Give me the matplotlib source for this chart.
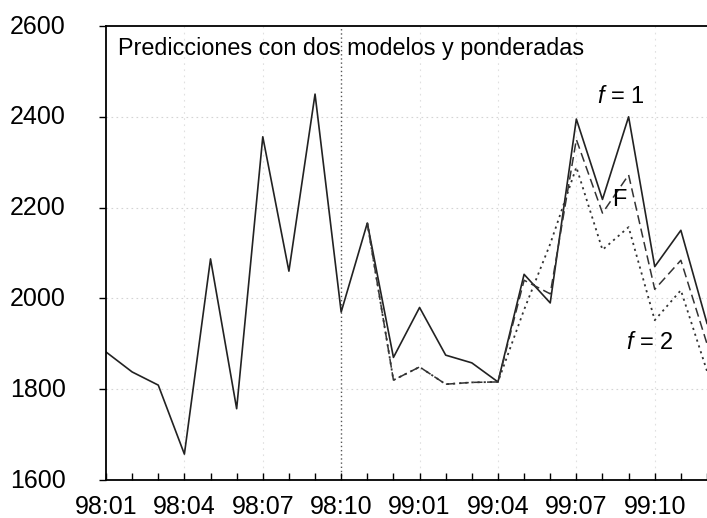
import matplotlib
matplotlib.use("Agg")
import matplotlib.pyplot as plt
import matplotlib.transforms as mtransforms
import numpy as np

plt.rcParams['font.family'] = ['Liberation Sans', 'DejaVu Sans']
plt.rcParams['mathtext.fontset'] = 'custom'
plt.rcParams['mathtext.it'] = 'Liberation Sans:italic'
plt.rcParams['mathtext.rm'] = 'Liberation Sans'

# months 98:01 .. 99:12
months = ['98:01', '98:02', '98:03', '98:04', '98:05', '98:06', '98:07', '98:08',
          '98:09', '98:10', '98:11', '98:12', '99:01', '99:02', '99:03', '99:04',
          '99:05', '99:06', '99:07', '99:08', '99:09', '99:10', '99:11', '99:12']

# observed series + model f = 1 (solid)
f1 = [1882, 1838, 1809, 1657, 2087, 1757, 2356, 2060, 2450, 1970, 2166, 1870,
      1980, 1875, 1858, 1816, 2053, 1990, 2395, 2218, 2400, 2070, 2150, 1945]

# forecasts start at 98:11
start = 10
f2 = [2166, 1820, 1849, 1811, 1815, 1816, 1975, 2120, 2289, 2107, 2157, 1952, 2018, 1840]
F = [2166, 1820, 1849, 1811, 1815, 1816, 2040, 2010, 2350, 2188, 2272, 2020, 2084, 1900]

tick_labels = months[::3]

fig = plt.figure(figsize=(7.07, 5.18), dpi=100)
ax = fig.add_axes([106/707, 38/518, 1 - 106/707, 454/518])

x = np.arange(len(months))
xf = np.arange(start, start + len(f2))

ax.plot(x, f1, color='#222222', lw=1.2, ls='-')
ax.plot(xf, F, color='#333333', lw=1.1, ls=(0, (6, 3)))
ax.plot(xf, f2, color='#333333', lw=1.3, ls=(0, (1.2, 2.2)))

ax.set_xlim(0, 23)
ax.set_ylim(1600, 2600)
ax.set_yticks([1600, 1800, 2000, 2200, 2400, 2600])
ax.set_xticks(x[::3])
ax.set_xticklabels(tick_labels)
ax.set_xticks(x, minor=True)

# grid
for v in [1800, 2000, 2200, 2400]:
    ax.axhline(v, color='#d4d4d4', lw=0.8, ls=(0, (1.5, 3)), zorder=0)
for i in x[::3][1:]:
    if i == 9:
        continue
    ax.axvline(i, color='#e0e0e0', lw=0.8, ls=(0, (1.5, 4)), zorder=0)
ax.axvline(9, color='#555555', lw=1.0, ls=(0, (1, 2)), zorder=1)

ax.tick_params(axis='x', which='both', direction='in', labelsize=18, pad=11,
               length=5, width=1)
ax.tick_params(axis='y', direction='out', labelsize=18, pad=24, length=5, width=1)
offset = mtransforms.ScaledTranslation(0, 2/100, fig.dpi_scale_trans)
for lab in ax.get_yticklabels():
    lab.set_transform(lab.get_transform() + offset)

ax.spines['right'].set_visible(False)
for s in ['left', 'bottom', 'top']:
    ax.spines[s].set_linewidth(1.3)

ax.text(0.02, 0.951, 'Predicciones con dos modelos y ponderadas', transform=ax.transAxes,
        fontsize=16.8, va='center', ha='left')
ax.text(19.7, 2444, r'$f$ = 1', fontsize=17, ha='center', va='center')
ax.text(19.66, 2217, 'F', fontsize=17, ha='center', va='center')
ax.text(20.8, 1902, r'$f$ = 2', fontsize=17, ha='center', va='center')

plt.savefig('out.png', dpi=100)
